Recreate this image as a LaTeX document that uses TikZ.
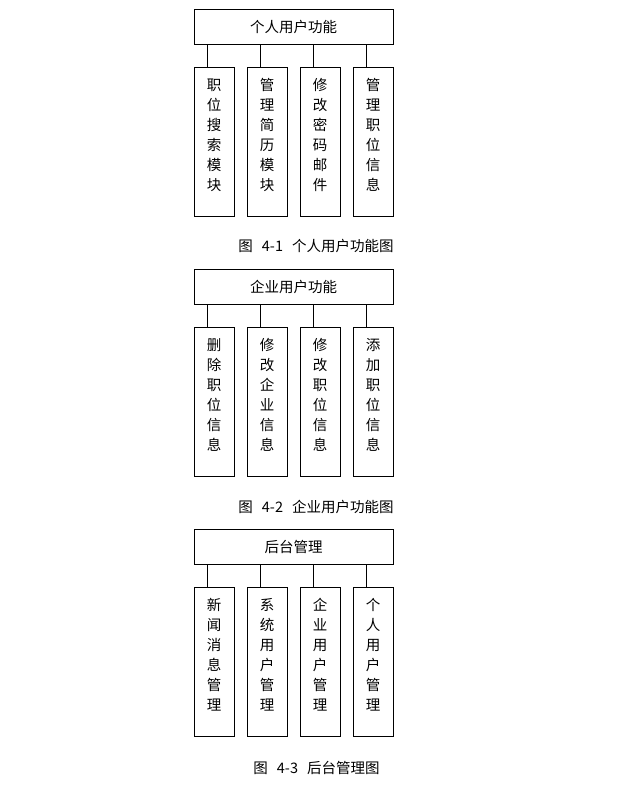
\documentclass[tikz,border=0pt]{standalone}
\usepackage{fontspec}
\newfontfamily\cjk{Noto Sans CJK SC}
\usepackage{tikz}
\usetikzlibrary{positioning}

\begin{document}
\begin{tikzpicture}[
  x=1pt, y=-1pt,
  node distance=12pt,
  every node/.style={font=\cjk\fontsize{14.5}{20}\selectfont},
  head/.style={draw, line width=1pt, minimum width=199pt, minimum height=35pt, inner sep=0pt},
  col/.style={draw, line width=1pt, text width=40pt, inner xsep=0pt, inner ysep=0pt, align=center, text height=23pt, text depth=126pt},
  link/.style={line width=1pt}
]
  \useasboundingbox (0,0) rectangle (639,794);

  % group 1
  \node[head] (t1) at (293.5,27.5) {个人用户功能};
  \node[col, below right=22pt and 0pt of t1.south west] (c11) {职\\位\\搜\\索\\模\\块};
  \node[col, right=of c11] (c12) {管\\理\\简\\历\\模\\块};
  \node[col, right=of c12] (c13) {修\\改\\密\\码\\邮\\件};
  \node[col, right=of c13] (c14) {管\\理\\职\\位\\信\\息};
  \node (cap1) at (316,246) {图\hspace{9pt}4-1\hspace{9pt}个人用户功能图};

  % group 2
  \node[head] (t2) at (293.5,287) {企业用户功能};
  \node[col, below right=22pt and 0pt of t2.south west] (c21) {删\\除\\职\\位\\信\\息};
  \node[col, right=of c21] (c22) {修\\改\\企\\业\\信\\息};
  \node[col, right=of c22] (c23) {修\\改\\职\\位\\信\\息};
  \node[col, right=of c23] (c24) {添\\加\\职\\位\\信\\息};
  \node (cap2) at (316,507) {图\hspace{9pt}4-2\hspace{9pt}企业用户功能图};

  % group 3
  \node[head] (t3) at (293.5,546.5) {后台管理};
  \node[col, below right=22pt and 0pt of t3.south west] (c31) {新\\闻\\消\\息\\管\\理};
  \node[col, right=of c31] (c32) {系\\统\\用\\户\\管\\理};
  \node[col, right=of c32] (c33) {企\\业\\用\\户\\管\\理};
  \node[col, right=of c33] (c34) {个\\人\\用\\户\\管\\理};
  \node (cap3) at (316.5,768) {图\hspace{9pt}4-3\hspace{9pt}后台管理图};

  \foreach \g in {1,2,3}
    \foreach \c in {1,2,3,4}
      \draw[link] ([xshift=-7pt]c\g\c.north) -- ([xshift=-7pt]c\g\c.north |- t\g.south);
\end{tikzpicture}
\end{document}
